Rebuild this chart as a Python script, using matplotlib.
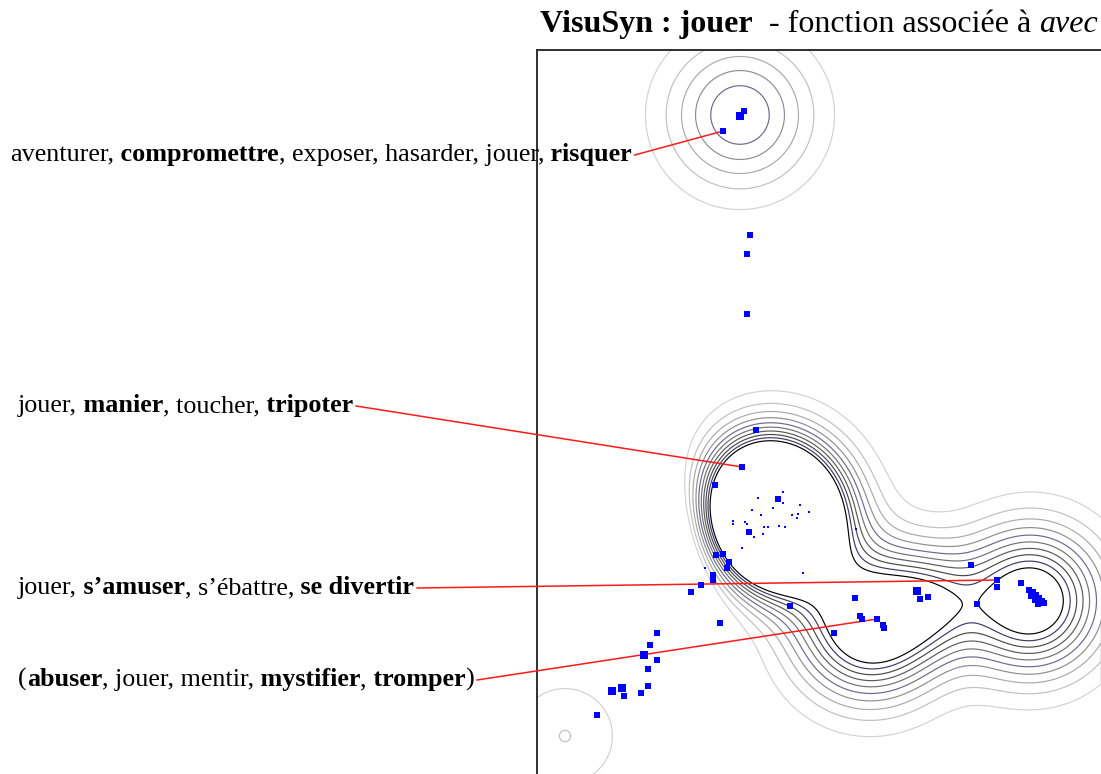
import numpy as np
import matplotlib
matplotlib.use("Agg")
import matplotlib.pyplot as plt

W, H, DPI = 1101, 774, 100

# ---------------- data (plot units = pixels of the plot area) ----------------
tiny_x = [758, 783, 752, 761, 773, 800, 792, 798, 809, 797, 733, 733, 745, 747, 764, 768, 779, 785, 763, 754, 742, 803, 856, 783, 705]
tiny_y = [498, 492, 510, 515, 508, 505, 515, 514, 512, 518, 521, 524, 522, 524, 527, 527, 526, 527, 534, 537, 548, 573, 529, 503, 568]
small_x = [744, 723, 750, 747, 747, 756, 742, 715, 716, 723, 729, 727, 713, 713, 701, 691, 720, 790, 855, 860, 862, 877, 883, 884, 834,
           971, 997, 997, 977, 1021, 1029, 1033, 1036, 1031, 1039, 1042, 1038, 1044, 920, 928,
           657, 650, 657, 648, 648, 641, 624, 597]
small_y = [111, 131, 235, 254, 314, 430, 467, 485, 555, 554, 562, 568, 575, 580, 585, 592, 623, 606, 598, 616, 619, 619, 625, 628, 633,
           565, 580, 587, 604, 583, 590, 592, 595, 596, 598, 601, 604, 603, 599, 597,
           633, 645, 660, 669, 686, 693, 696, 715]
medium_x = [778, 749, 1035]
medium_y = [499, 532, 600]
big_x = [740, 917, 644, 612, 622]
big_y = [116, 591, 655, 691, 688]

# density surface: gaussian components (centre x, centre y, weight, spread)
comp_x = [740.0, 753.1, 931.1, 1031.0, 745.3, 565.0, 869.6]
comp_y = [115.0, 520.6, 600.9, 600.8, 522.9, 736.0, 624.1]
comp_w = [5.93, 145.07, 4.96, 12.48, -114.29, 2.02, 13.23]
comp_s = [50.1, 48.4, 35.3, 48.4, 49.2, 40.0, 49.5]
levels = [1, 2, 3, 4, 5, 6, 7, 8, 9, 10]

title_parts = [("VisuSyn : jouer", "bold", "normal"),
               ("  - fonction associée à ", "normal", "normal"),
               ("avec", "normal", "italic")]
label_parts = [
    [("aventurer,", "normal"), (" compromettre", "bold"), (", exposer, hasarder, jouer,", "normal"), (" risquer", "bold")],
    [("jouer,", "normal"), (" manier", "bold"), (", toucher,", "normal"), (" tripoter", "bold")],
    [("jouer,", "normal"), (" s’amuser", "bold"), (", s’ébattre,", "normal"), (" se divertir", "bold")],
    [("(", "normal"), ("abuser", "bold"), (", jouer, mentir,", "normal"), (" mystifier", "bold"),
     (",", "normal"), (" tromper", "bold"), (")", "normal")],
]
label_x = [10, 18, 18, 18]
label_base = [161, 412, 594, 686]
target_x = [723, 742, 997, 877]
target_y = [131, 467, 580, 619]


def field(x, y):
    f = np.zeros_like(x, float)
    for cx, cy, w, s in zip(comp_x, comp_y, comp_w, comp_s):
        f += w*np.exp(-((x-cx)**2+(y-cy)**2)/(2*s*s))
    return f


# ---------------- figure ----------------
fig = plt.figure(figsize=(W/DPI, H/DPI), dpi=DPI)
fig.patch.set_facecolor("white")
x0, x1, y0, y1 = 537, 1150, 50, 800
ax = fig.add_axes([x0/W, (H-y1)/H, (x1-x0)/W, (y1-y0)/H])
ax.set_xlim(x0, x1); ax.set_ylim(y1, y0)
ax.set_xticks([]); ax.set_yticks([])
for s in ("right", "bottom"):
    ax.spines[s].set_visible(False)
for s in ("left", "top"):
    ax.spines[s].set_color("#303030"); ax.spines[s].set_linewidth(1.4)

gx_ = np.arange(x0-80, x1+1, 1.0); gy_ = np.arange(y0-80, y1+1, 1.0)
XX, YY = np.meshgrid(gx_, gy_)
F = field(XX, YY)
lcolors = ["#d2d2d2", "#c0c0c0", "#aaaaaa", "#8e8e8e", "#6a6a8c", "#727272", "#5a5a5a", "#484848", "#3c3c64", "#000000"]
ax.contour(XX, YY, F, levels=levels, colors=lcolors, linewidths=0.85)

blue = "#0000ff"
for xs, ys, sz in ((tiny_x, tiny_y, 1.6), (small_x, small_y, 3.8), (medium_x, medium_y, 4.8), (big_x, big_y, 6.0)):
    ax.scatter(xs, ys, s=sz**2, marker="s", color=blue, linewidths=0, zorder=5)

renderer = fig.canvas.get_renderer()


def place(parts, x, base, size, fam):
    for txt, weight, *st in parts:
        style = st[0] if st else "normal"
        t = fig.text(x/W, 1-base/H, txt, fontsize=size, fontweight=weight, style=style,
                     family=fam, ha="left", va="baseline", color="black")
        x += t.get_window_extent(renderer).width
    return x


serif = ["Liberation Serif", "DejaVu Serif"]
place(title_parts, 540, 32, 23, serif)
for parts, lx, lb, tx, ty in zip(label_parts, label_x, label_base, target_x, target_y):
    xe = place(parts, lx, lb, 18.8, serif)
    ax.plot([xe+3, tx], [lb-6, ty], color="#ff1a1a", lw=1.1, clip_on=False, zorder=4)

fig.savefig("out.png", dpi=DPI, facecolor="white")
